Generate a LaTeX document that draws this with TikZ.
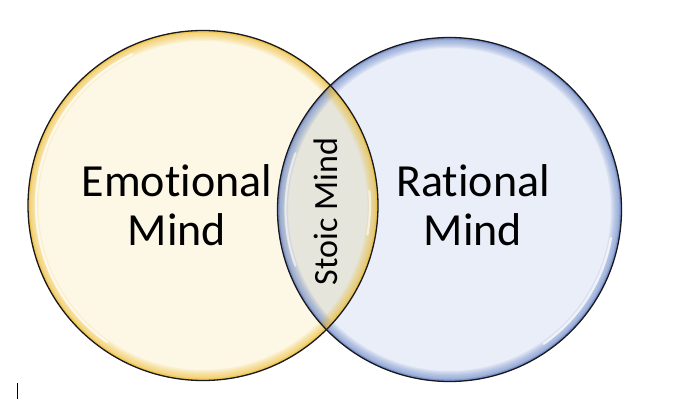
\documentclass[tikz,border=0pt]{standalone}
\usepackage{fontspec}
\setmainfont{Carlito}[RawFeature={-liga;-dlig}]
\definecolor{creamfill}{RGB}{253,247,229}
\definecolor{goldglow}{RGB}{238,186,40}
\definecolor{bluefill}{RGB}{233,238,248}
\definecolor{blueglow}{RGB}{95,125,195}
\definecolor{lensfill}{RGB}{229,229,220}
\definecolor{rimline}{RGB}{25,25,30}
\tikzset{
  bigtext/.style={font=\fontsize{46}{49}\selectfont, align=center, anchor=base, inner sep=0pt},
  smalltext/.style={font=\fontsize{34}{36}\selectfont, anchor=base, inner sep=0pt, rotate=90},
  rim/.style={draw=rimline, line width=1.3pt},
  highlight/.style={draw=white, line width=2.2pt, opacity=0.75, line cap=round}
}
\newcommand{\glowring}[3]{%
  \foreach \w in {3,6,...,21}{\draw[#3, line width=\w pt, opacity=0.12] (#1) circle[radius=#2];}%
  \draw[#3, line width=4pt, opacity=0.45] (#1) circle[radius=#2];%
}
\begin{document}
\begin{tikzpicture}[x=1pt,y=-1pt]
\useasboundingbox (0,0) rectangle (699,401);
\fill[white] (0,0) rectangle (699,401);
\coordinate (lc) at (203,205.5);
\coordinate (rc) at (449.5,209.5);
% left circle
\fill[creamfill] (lc) circle[radius=175];
\begin{scope}
  \clip (lc) circle[radius=175];
  \glowring{lc}{175}{goldglow}
\end{scope}
% right circle
\fill[bluefill] (rc) circle[radius=172];
\begin{scope}
  \clip (rc) circle[radius=172];
  \glowring{rc}{172}{blueglow}
\end{scope}
% lens
\begin{scope}
  \clip (lc) circle[radius=175];
  \clip (rc) circle[radius=172];
  \fill[lensfill] (lc) circle[radius=175];
  \glowring{rc}{172}{blueglow}
  \glowring{lc}{175}{goldglow}
\end{scope}
% highlights
\draw[highlight] (lc) ++(125:167) arc[start angle=125, end angle=245, radius=167];
\draw[highlight] (rc) ++(10:164) arc[start angle=10, end angle=55, radius=164];
\draw[highlight, opacity=0.6] (rc) ++(160:164) arc[start angle=160, end angle=200, radius=164];
\draw[highlight, opacity=0.6] (lc) ++(-5:167) arc[start angle=-5, end angle=10, radius=167];
% outlines
\draw[rim] (lc) circle[radius=175];
\draw[rim] (rc) circle[radius=172];
% texts
\node[bigtext] (emo) at (177,245) {Emotional\\Mind};
\node[bigtext] (rat) at (473,245.5) {Rational\\Mind};
\node[smalltext] (stoic) at (337,211.5) {Stoic Mind};
% cursor
\draw[line width=1pt] (17,383) -- (17,399);
\end{tikzpicture}
\end{document}
